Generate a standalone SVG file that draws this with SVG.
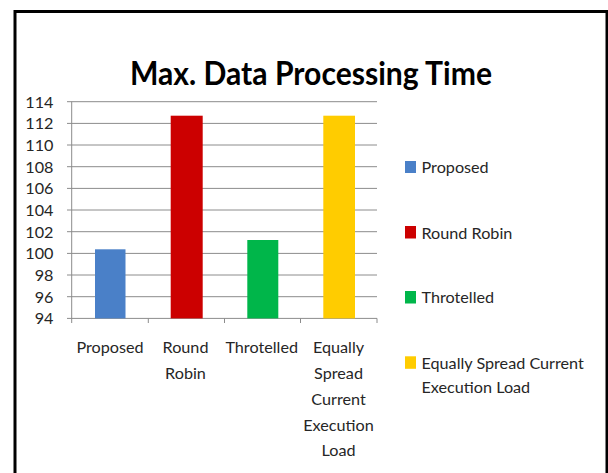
<svg xmlns="http://www.w3.org/2000/svg" width="608" height="473" viewBox="0 0 608 473">
<style>
.t{font-family:Lato,"Open Sans","Liberation Sans",sans-serif;font-size:16.2px;fill:#262626}
.yl{text-anchor:end}
.xl{text-anchor:middle}
.grid{stroke:#8c8c8c;stroke-width:1}
</style>
<rect x="0" y="0" width="608" height="473" fill="#fff"/>
<rect x="15" y="11.5" width="592" height="500" fill="#fff" stroke="#000" stroke-width="3"/>
<text x="130" y="85" textLength="362" lengthAdjust="spacingAndGlyphs" style="font-family:Lato,'Open Sans','Liberation Sans',sans-serif;font-size:33px;font-weight:bold;fill:#000">Max. Data Processing Time</text>
<g id="gridlines" class="grid">
<line x1="67" y1="101.7" x2="377" y2="101.7"/>
<line x1="67" y1="123.4" x2="377" y2="123.4"/>
<line x1="67" y1="145" x2="377" y2="145"/>
<line x1="67" y1="166.7" x2="377" y2="166.7"/>
<line x1="67" y1="188.4" x2="377" y2="188.4"/>
<line x1="67" y1="210" x2="377" y2="210"/>
<line x1="67" y1="231.7" x2="377" y2="231.7"/>
<line x1="67" y1="253.4" x2="377" y2="253.4"/>
<line x1="67" y1="275" x2="377" y2="275"/>
<line x1="67" y1="296.7" x2="377" y2="296.7"/>
<line x1="67" y1="318.4" x2="377" y2="318.4"/>
<line x1="71.7" y1="101.7" x2="71.7" y2="323"/>
<line x1="148.3" y1="318.4" x2="148.3" y2="323"/>
<line x1="224.5" y1="318.4" x2="224.5" y2="323"/>
<line x1="300.5" y1="318.4" x2="300.5" y2="323"/>
<line x1="377" y1="318.4" x2="377" y2="323"/>
</g>
<g id="yaxis" class="t yl">
<text x="53.5" y="107.7">114</text>
<text x="53.5" y="129.4">112</text>
<text x="53.5" y="151">110</text>
<text x="53.5" y="172.7">108</text>
<text x="53.5" y="194.4">106</text>
<text x="53.5" y="216">104</text>
<text x="53.5" y="237.7">102</text>
<text x="53.5" y="259.4">100</text>
<text x="53.5" y="281">98</text>
<text x="53.5" y="302.7">96</text>
<text x="53.5" y="324.4">94</text>
</g>
<g id="bar-proposed"><rect x="95" y="249.3" width="30.5" height="69.1" fill="#4a80c8"/></g>
<g id="bar-roundrobin"><rect x="170.7" y="115.7" width="32" height="202.7" fill="#cc0000"/></g>
<g id="bar-throtelled"><rect x="247.3" y="240" width="31" height="78.4" fill="#00b64a"/></g>
<g id="bar-esce"><rect x="323.3" y="115.7" width="31.7" height="202.7" fill="#ffcc00"/></g>
<g id="xaxis" class="t xl">
<text x="110" y="353">Proposed</text>
<text x="185.5" y="353">Round</text>
<text x="185.5" y="379">Robin</text>
<text x="261.7" y="353">Throtelled</text>
<text x="338.5" y="353">Equally</text>
<text x="338.5" y="379">Spread</text>
<text x="338.5" y="405">Current</text>
<text x="338.5" y="430.5">Execution</text>
<text x="338.5" y="456">Load</text>
</g>
<g id="legend" class="t">
<rect x="405" y="161" width="11" height="12" fill="#4a80c8"/>
<text x="421.5" y="173.3">Proposed</text>
<rect x="405" y="226" width="11" height="12.5" fill="#cc0000"/>
<text x="421.5" y="238.5">Round Robin</text>
<rect x="405" y="291" width="11" height="12.5" fill="#00b64a"/>
<text x="421.5" y="303.3">Throtelled</text>
<rect x="405" y="356.3" width="11" height="12.5" fill="#ffcc00"/>
<text x="421.5" y="369">Equally Spread Current</text>
<text x="421.5" y="393.3">Execution Load</text>
</g>
</svg>
